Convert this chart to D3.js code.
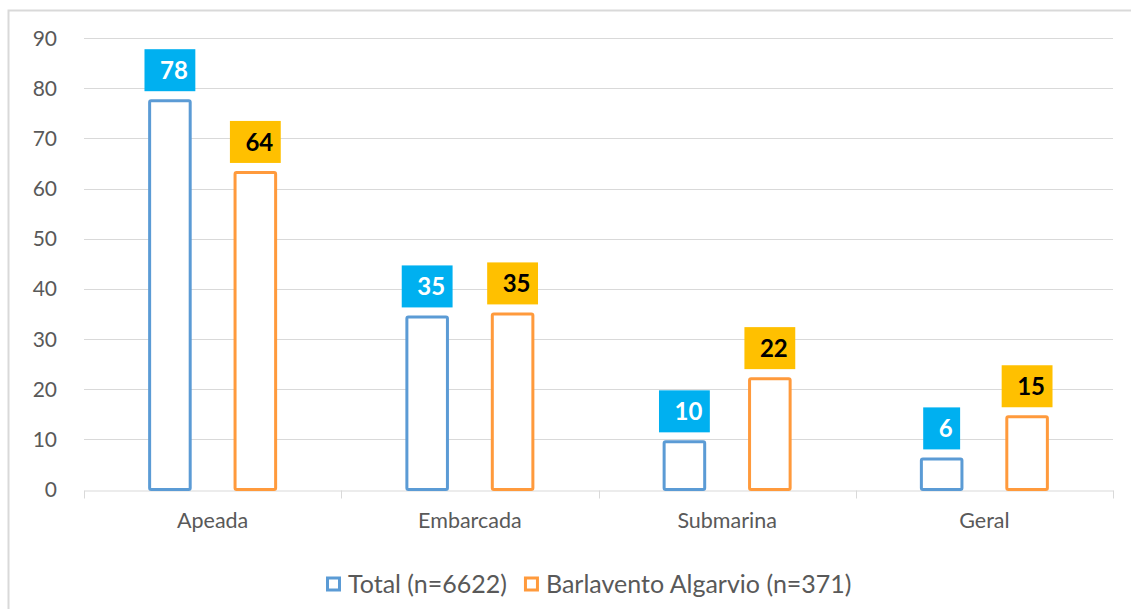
<!DOCTYPE html>
<html lang="pt">
<head>
  <meta charset="UTF-8">
  <title>Apeada / Embarcada / Submarina / Geral</title>
  <style>
    body { margin: 0; background: #fff; font-family: Lato, "Open Sans", sans-serif; }
  </style>
  <script src="https://cdn.jsdelivr.net/npm/d3@7"></script>
</head>
<body>
  <script>
    var categories = ["Apeada", "Embarcada", "Submarina", "Geral"];
    var seriesNames = ["Total (n=6622)", "Barlavento Algarvio (n=371)"];
    var totalValues = [77.8, 34.7, 9.8, 6.4];
    var barlaventoValues = [63.5, 35.3, 22.4, 14.8];
    var yTicks = [0, 10, 20, 30, 40, 50, 60, 70, 80, 90];

    var colors = ["#5B9BD5", "#FF9A3C"];
    var labelFill = ["#00B0F0", "#FFC000"];
    var labelText = ["#fff", "#000"];

    var W = 1131, H = 609;
    var margin = {left: 84, right: 18, top: 38, bottom: 119};

    var svg = d3.select("body").append("svg")
      .attr("width", W)
      .attr("height", H);

    // chart frame
    svg.append("rect")
      .attr("x", 8.5).attr("y", 10.5)
      .attr("width", W + 20).attr("height", H + 20)
      .attr("fill", "none")
      .attr("stroke", "#d9d9d9")
      .attr("stroke-width", 2);

    var x0 = d3.scaleBand()
      .domain(categories)
      .range([margin.left, W - margin.right]);

    var groupHalf = 64.5;
    var x1 = d3.scaleBand()
      .domain([0, 1])
      .range([x0.bandwidth() / 2 - groupHalf, x0.bandwidth() / 2 + groupHalf])
      .paddingInner(0.49);

    var y = d3.scaleLinear()
      .domain([0, 90])
      .range([H - margin.bottom - 0.5, margin.top]);

    // gridlines
    svg.append("g").selectAll("line").data(yTicks.slice(1)).join("line")
      .attr("x1", margin.left).attr("x2", W - margin.right)
      .attr("y1", function(d) { return Math.round(y(d)) + 0.5; })
      .attr("y2", function(d) { return Math.round(y(d)) + 0.5; })
      .attr("stroke", "#d9d9d9");

    // y labels
    svg.append("g").selectAll("text").data(yTicks).join("text")
      .attr("x", 57)
      .attr("y", function(d) { return y(d); })
      .attr("dy", "0.36em")
      .attr("text-anchor", "end")
      .attr("font-size", 21)
      .attr("fill", "#595959")
      .text(function(d) { return d; });

    // x axis
    var xAxis = d3.axisBottom(x0).tickSize(0).tickPadding(22);
    var gx = svg.append("g")
      .attr("transform", "translate(0," + (Math.round(y(0)) + 0.5) + ")")
      .call(xAxis);
    gx.select(".domain").attr("stroke", "#d9d9d9");
    gx.selectAll("text")
      .attr("font-family", "Lato, 'Open Sans', sans-serif")
      .attr("font-size", 21.5)
      .attr("fill", "#595959");
    var bounds = categories.map(function(c) { return x0(c); }).concat([x0.range()[1]]);
    gx.selectAll(".sep").data(bounds).join("line")
      .attr("class", "sep")
      .attr("x1", function(d) { return Math.round(d) + 0.5; })
      .attr("x2", function(d) { return Math.round(d) + 0.5; })
      .attr("y1", 0).attr("y2", 8)
      .attr("stroke", "#d9d9d9");

    var rows = categories.map(function(c, i) {
      return {cat: c, values: [totalValues[i], barlaventoValues[i]]};
    });

    var groups = svg.append("g").selectAll("g").data(rows).join("g")
      .attr("transform", function(d) { return "translate(" + x0(d.cat) + ",0)"; });

    var cells = groups.selectAll("g").data(function(d) {
      return d.values.map(function(v, s) { return {v: v, s: s}; });
    }).join("g");

    cells.append("rect")
      .attr("x", function(d) { return x1(d.s) + 1.5; })
      .attr("y", function(d) { return y(d.v) + 1.5; })
      .attr("width", x1.bandwidth() - 3)
      .attr("height", function(d) { return y(0) - y(d.v) - 1.5; })
      .attr("rx", 1.5)
      .attr("fill", "#fff")
      .attr("stroke", function(d) { return colors[d.s]; })
      .attr("stroke-width", 3);

    // data labels
    cells.each(function(d) {
      var g = d3.select(this);
      var cx = x1(d.s) + x1.bandwidth() / 2;
      var label = String(Math.round(d.v));
      var t = g.append("text")
        .attr("font-size", 24)
        .attr("font-weight", "bold")
        .attr("fill", labelText[d.s])
        .attr("text-anchor", "middle")
        .text(label);
      var tw = t.node().getComputedTextLength();
      var bw = tw + 23, bh = 42;
      var by = y(d.v) - 8 - bh;
      g.insert("rect", "text")
        .attr("x", cx - bw / 2)
        .attr("y", by)
        .attr("width", bw)
        .attr("height", bh)
        .attr("fill", labelFill[d.s]);
      t.attr("x", cx + 4).attr("y", by + bh / 2).attr("dy", "0.36em");
    });

    // legend
    var legend = svg.append("g");
    var lx = 326, ly = 584;
    var items = legend.selectAll("g").data(seriesNames).join("g");
    var off = lx;
    items.each(function(name, i) {
      var g = d3.select(this).attr("transform", "translate(" + off + "," + ly + ")");
      g.append("rect")
        .attr("x", 1.5).attr("y", -6)
        .attr("width", 12).attr("height", 12)
        .attr("fill", "#fff")
        .attr("stroke", colors[i])
        .attr("stroke-width", 3);
      var t = g.append("text")
        .attr("x", 22).attr("dy", "0.36em")
        .attr("font-size", 25)
        .attr("fill", "#595959")
        .text(name);
      off += 22 + t.node().getComputedTextLength() + 17;
    });
  </script>
</body>
</html>
